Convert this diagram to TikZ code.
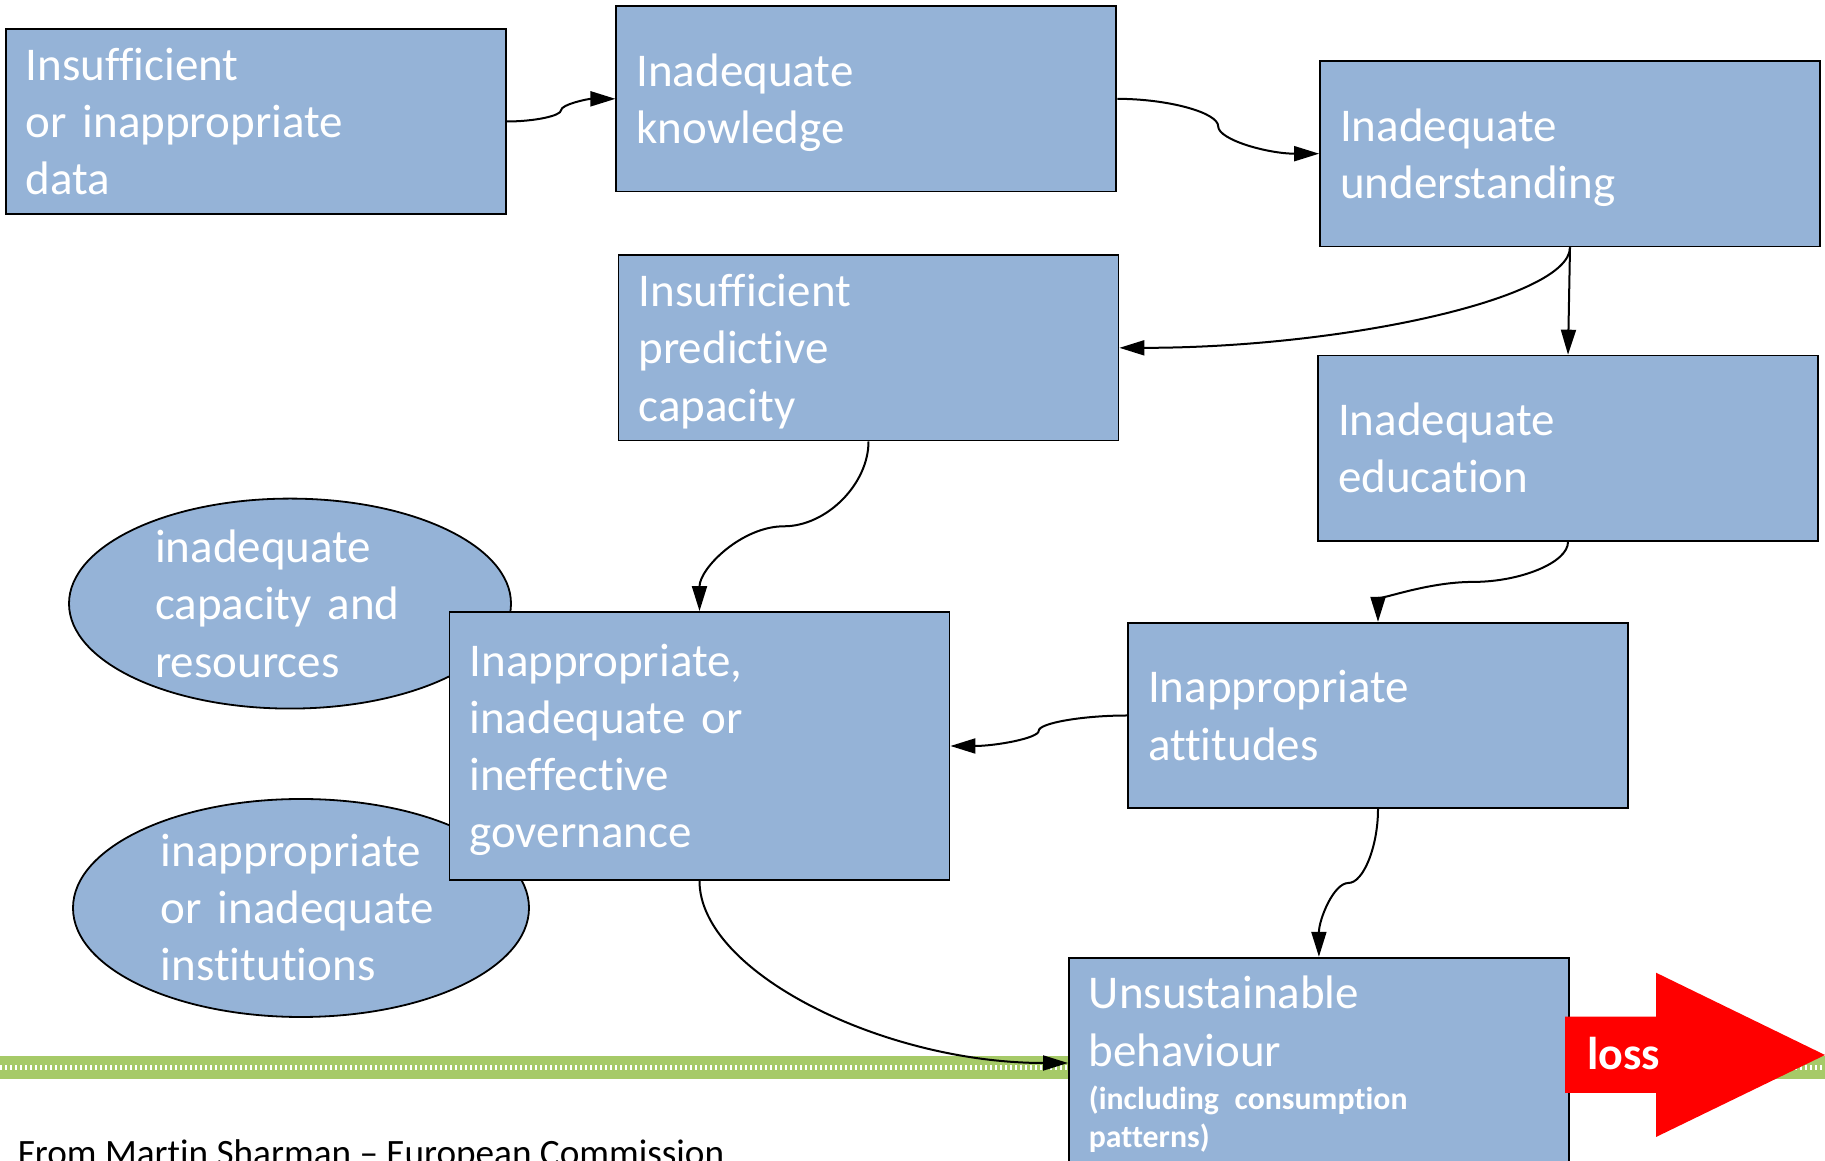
\documentclass[tikz,border=0pt]{standalone}
\usepackage{fontspec}
\setmainfont{Carlito}[Ligatures={TeX,NoCommon}]
\usetikzlibrary{arrows.meta,calc,shapes.geometric}
\definecolor{boxblue}{RGB}{149,179,215}
\definecolor{bandgreen}{RGB}{166,202,104}
\newcommand\boxfont{\fontsize{23.5}{28.65}\selectfont}
\newcommand\smallbold{\fontsize{15.9}{21.5}\selectfont\bfseries}
\newcommand\upstrut{\rule{0pt}{22.5pt}}
\newcommand\dnstrut{\rule[-6.5pt]{0pt}{6.5pt}}
\newcommand\boxlines[1]{\upstrut#1\dnstrut}
\tikzset{
  causebox/.style={draw=black, line width=0.9pt, fill=boxblue, text=white, font=\boxfont,
    minimum width=250pt, minimum height=92.75pt, inner xsep=10pt, inner ysep=0pt,
    text width=230pt, align=left},
  ovalnode/.style={ellipse, draw=black, line width=0.9pt, fill=boxblue, inner sep=0pt},
  ovaltext/.style={text=white, font=\boxfont, text width=200pt, align=left, inner sep=0pt, anchor=west},
  link/.style={line width=1pt, -{Triangle[length=12.5pt,width=7.5pt]}},
}
\begin{document}
\begin{tikzpicture}[x=0.5pt,y=0.5pt]
	\useasboundingbox (0,0) rectangle (1825,1161);
	\clip (0,0) rectangle (1825,1161);
	
	\draw[bandgreen, line width=11.5pt] (0,93.5) -- (1825,93.5);
	\draw[white, line width=2.5pt, dash pattern=on 1.2pt off 1.3pt] (0,93.5) -- (1825,93.5);
	
	\node (capres) [ovalnode, minimum width=221pt, minimum height=105pt] at (290,557.4) {};
	\node (instit) [ovalnode, minimum width=228pt, minimum height=109pt] at (301,253) {};
	\node (capres-t) [ovaltext] at (154.7,557) {\boxlines{inadequate\\capacity and\\resources}};
	\node (instit-t) [ovaltext] at (160.5,253.5) {\boxlines{inappropriate\\or inadequate\\institutions}};
	
	\node (data) [causebox] at (255.85,1039.5) {\boxlines{Insufficient\\or inappropriate\\data}};
	\node (knowl) [causebox] at (866.35,1062.15) {\boxlines{Inadequate\\knowledge}};
	\node (under) [causebox] at (1570,1007.3) {\boxlines{Inadequate\\understanding}};
	\node (predict) [causebox] at (868.5,813.15) {\boxlines{Insufficient\\predictive\\capacity}};
	\node (educ) [causebox] at (1568,712.65) {\boxlines{Inadequate\\education}};
	\node (attit) [causebox] at (1378,445.5) {\boxlines{Inappropriate\\attitudes}};
	\node (govern) [causebox, minimum height=134pt] at (699.5,415) {\boxlines{Inappropriate,\\inadequate or\\ineffective\\governance}};
	\node (behav) [causebox, anchor=north west, minimum height=0pt, inner ysep=3pt] at (1068,204.2) {\upstrut Unsustainable\\[0.25pt]behaviour\\{\smallbold (including consumption\\[-2.6pt]patterns)\rule[-40pt]{0pt}{0pt}\par}};
	
	\draw[link] (data.east) .. controls +(27.5,0) and +(0,-5.7) .. ($(data.east)!.5!(knowl.west)$) .. controls +(0,5.7) and +(-27.5,0) .. (knowl.west);
	\draw[link] (knowl.east) .. controls +(50.8,0) and +(0,13.7) .. ($(knowl.east)!.5!(under.west)$) .. controls +(0,-13.7) and +(-50.8,0) .. (under.west);
	\draw[link] (under.south) .. controls +(0,-50.6) and +(225.5,0) .. (predict.east);
	\draw[link] (under.south) -- (educ.north);
	\draw[link] (predict.south) .. controls +(0,-42.8) and +(42.25,0) .. ($(predict.south)!.5!(govern.north)$) .. controls +(-42.25,0) and +(0,42.8) .. (govern.north);
	\draw[link] (educ.south) .. controls +(0,-20.5) and +(47.5,0) .. ($(educ.south)!.5!(attit.north)$) .. controls +(-47.5,0) and +(0,20.5) .. (attit.north);
	\draw[link] (attit.west) .. controls +(-44.5,0) and +(0,7.6) .. ($(attit.west)!.5!(govern.east)$) .. controls +(0,-7.6) and +(44.5,0) .. (govern.east);
	\draw[link] (attit.south) .. controls +(0,-37.1) and +(15,0) .. ($(attit.south)!.5!(behav.north)$) .. controls +(-15,0) and +(0,37.1) .. (behav.north);
	\draw[link] (govern.south) .. controls +(0,-91.5) and +(-184.25,0) .. ($(behav.north west)+(0,-106.2)$);
	
	\fill[red] (1565,144.3) -- (1656,144.3) -- (1656,188.3) -- (1825,106) -- (1656,24) -- (1656,68) -- (1565,68) -- cycle;
	\node (loss) [anchor=base west, inner sep=0pt, text=white, font=\fontsize{23}{27}\selectfont\bfseries] at (1586.7,91) {loss};
	
	\node (credit) [anchor=base west, inner sep=0pt, font=\fontsize{18.6}{22}\selectfont] at (17.5,-5) {From Martin Sharman – European Commission};
	
\end{tikzpicture}
\end{document}
